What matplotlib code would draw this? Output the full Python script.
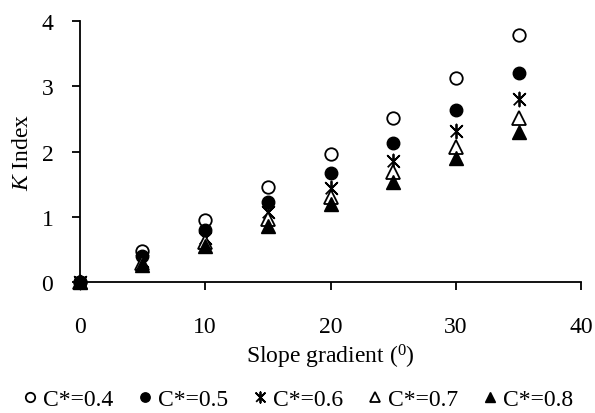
import numpy as np
import matplotlib
matplotlib.use("Agg")
import matplotlib.pyplot as plt

plt.rcParams['font.family'] = ['Liberation Serif', 'DejaVu Serif']
plt.rcParams['mathtext.fontset'] = 'custom'
plt.rcParams['mathtext.rm'] = 'Liberation Serif'
plt.rcParams['mathtext.it'] = 'Liberation Serif:italic'

# data
slope = [0, 5, 10, 15, 20, 25, 30, 35]
k_04 = [0, 0.48, 0.95, 1.45, 1.97, 2.52, 3.12, 3.79]
k_05 = [0, 0.40, 0.80, 1.22, 1.67, 2.13, 2.63, 3.20]
k_06 = [0, 0.33, 0.68, 1.07, 1.44, 1.85, 2.31, 2.80]
k_07 = [0, 0.30, 0.61, 0.96, 1.30, 1.68, 2.07, 2.52]
k_08 = [0, 0.26, 0.55, 0.86, 1.19, 1.53, 1.90, 2.30]
labels = ['C*=0.4', 'C*=0.5', 'C*=0.6', 'C*=0.7', 'C*=0.8']

fig = plt.figure(figsize=(5.95, 4.14), dpi=100)
ax = fig.add_axes([0.134, 0.316, 0.843, 0.631])

# excel-like star: X plus vertical bar
star = [(-1, -1), (1, 1), (0, 0), (-1, 1), (1, -1), (0, 0), (0, 1.2), (0, -1.2), (0, 0)]
styles = [
    dict(marker='o', mfc='white', mec='black', ms=9, mew=1.3),
    dict(marker='o', mfc='black', mec='black', ms=9),
    dict(marker=star, mfc='none', mec='black', ms=10, mew=1.3),
    dict(marker='^', mfc='white', mec='black', ms=9.5, mew=1.3),
    dict(marker='^', mfc='black', mec='black', ms=9.5),
]
series = [k_04, k_05, k_06, k_07, k_08]
for ys, st, lab in zip(series, styles, labels):
    ax.plot(slope, ys, linestyle='none', label=lab, clip_on=False, **st)

ax.set_xlim(0, 40)
ax.set_ylim(0, 4)
ax.set_xticks([0, 10, 20, 30, 40])
ax.set_yticks([0, 1, 2, 3, 4])
ax.spines['top'].set_visible(False)
ax.spines['right'].set_visible(False)
for s in ['left', 'bottom']:
    ax.spines[s].set_linewidth(1.3)
ax.tick_params(axis='both', direction='out', length=6, width=1.3, labelsize=17)
ax.tick_params(axis='x', pad=18)
ax.tick_params(axis='y', pad=13)

ax.set_xlabel(r'Slope gradient ($^{0}$)', fontsize=17, labelpad=4)
ax.set_ylabel(r'$\mathit{K}$ Index', fontsize=17, labelpad=6)

ax.legend(loc='upper center', bbox_to_anchor=(0.43, -0.37), ncol=5, frameon=False,
          fontsize=17, handletextpad=0.05, columnspacing=0.85, handlelength=1.0,
          markerscale=0.75, borderaxespad=0)

fig.savefig('out.png', dpi=100)
